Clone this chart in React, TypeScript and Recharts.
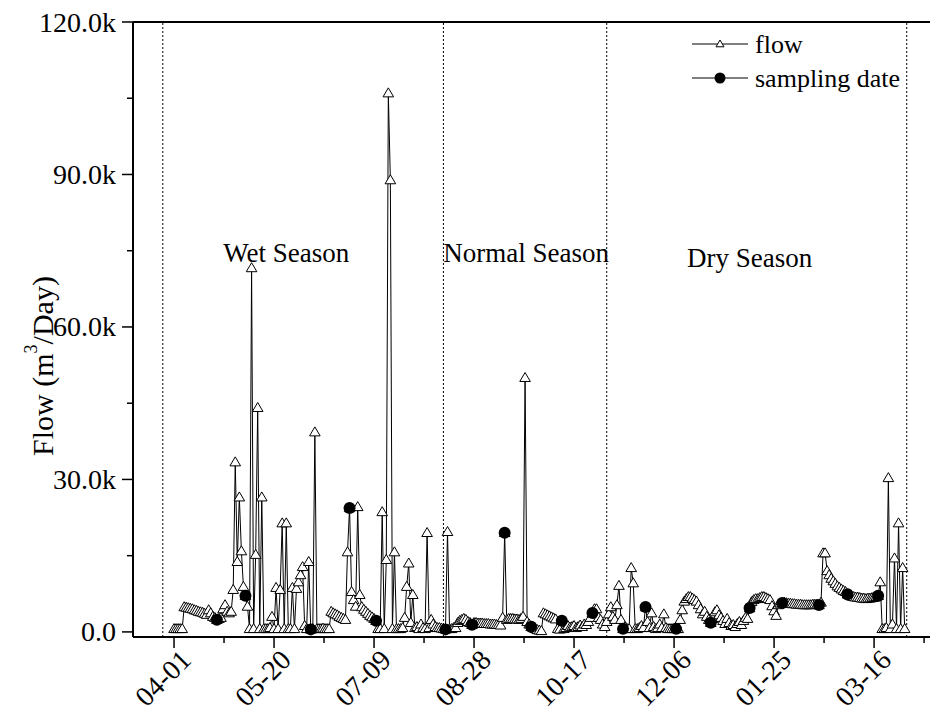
import React from "react"
import {
  ComposedChart,
  Line,
  Scatter,
  XAxis,
  YAxis,
  ReferenceLine,
  ReferenceDot,
} from "recharts"

const FONT = "'Liberation Serif', 'Times New Roman', serif"

// daily flow, thousand m3/day, starting 04-01
const flowK = [
  0.6, 0.6, 0.6, 0.6, 0.6, 4.9, 4.8, 4.7, 4.6, 4.5,
  4.3, 4.2, 4.0, 3.9, 3.8, 3.6, 3.4, 4.3, 3.7, 3.0,
  2.8, 2.4, 2.6, 2.8, 4.5, 5.3, 4.0, 3.7, 4.0, 8.3,
  33.4, 13.8, 26.5, 15.9, 8.9, 7.1, 5.0, 0.6, 71.6, 0.6,
  15.2, 44.1, 0.6, 26.5, 0.6, 0.6, 0.6, 0.8, 3.0, 0.6,
  8.7, 0.6, 8.3, 21.4, 0.6, 21.4, 0.6, 0.6, 8.7, 0.6,
  8.5, 9.8, 11.2, 12.8, 1.2, 0.6, 13.8, 0.5, 0.6, 39.3,
  0.6, 0.6, 0.6, 0.7, 0.6, 0.6, 0.6, 4.0, 3.7, 3.5,
  3.3, 3.0, 2.8, 2.6, 2.4, 15.7, 24.4, 7.9, 6.3, 5.0,
  24.6, 7.3, 4.9, 4.4, 4.0, 3.6, 3.2, 2.9, 2.6, 2.2,
  0.6, 0.6, 23.6, 0.6, 14.2, 106.0, 88.9, 0.6, 15.7, 0.6,
  0.6, 0.6, 0.8, 2.8, 8.9, 13.5, 1.8, 7.3, 0.8, 1.0,
  0.6, 1.5, 0.8, 0.6, 19.5, 0.8, 2.4, 1.5, 1.0, 0.8,
  0.8, 0.7, 0.6, 0.5, 19.7, 0.6, 0.6, 0.8, 0.8, 1.8,
  2.2, 2.4, 2.6, 2.4, 2.0, 1.8, 1.4, 1.8, 1.8, 1.7,
  1.7, 1.7, 1.6, 1.6, 1.6, 1.5, 1.5, 1.5, 1.4, 1.4,
  1.3, 2.8, 19.5, 2.4, 2.6, 2.6, 2.6, 2.5, 2.5, 2.4,
  2.6, 3.0, 50.0, 2.0, 1.5, 1.0, 0.8, 0.6, 0.4, 0.3,
  0.2, 3.7, 3.5, 3.3, 3.1, 2.9, 2.7, 2.5, 0.6, 0.5,
  2.2, 0.6, 0.8, 1.2, 0.9, 1.0, 1.2, 0.8, 1.0, 1.3,
  1.0, 1.5, 1.4, 2.0, 2.8, 3.7, 4.5, 4.5, 2.8, 2.4,
  1.5, 1.0, 2.0, 3.5, 4.9, 3.0, 2.4, 5.3, 9.1, 2.4,
  0.6, 1.0, 0.6, 0.6, 12.6, 9.6, 0.6, 0.6, 0.8, 1.2,
  0.8, 4.9, 2.0, 0.8, 3.7, 1.0, 0.6, 0.8, 1.5, 0.8,
  3.5, 0.8, 0.6, 0.6, 0.6, 0.6, 0.6, 0.6, 2.4, 4.3,
  6.0, 6.5, 6.9, 6.9, 6.6, 6.3, 6.0, 5.3, 4.5, 3.5,
  4.0, 3.0, 2.4, 1.8, 2.6, 3.9, 4.3, 3.3, 2.8, 2.2,
  1.6, 2.6, 1.8, 1.2, 1.4, 1.0, 1.6, 2.0, 1.4, 2.2,
  2.8, 2.6, 4.7, 5.9, 6.3, 6.5, 6.5, 6.7, 6.9, 6.9,
  6.7, 6.5, 6.3, 5.1, 4.1, 3.2, 5.3, 5.6, 5.7, 5.8,
  5.7, 5.6, 5.6, 5.5, 5.5, 5.4, 5.4, 5.4, 5.3, 5.3,
  5.3, 5.3, 5.3, 5.4, 5.4, 5.4, 5.3, 5.8, 15.5, 15.5,
  12.0, 11.2, 10.5, 10.0, 9.5, 9.0, 8.7, 8.4, 8.1, 7.9,
  7.4, 7.2, 7.0, 6.9, 6.8, 6.8, 6.7, 6.6, 6.6, 6.5,
  6.6, 6.6, 6.7, 6.8, 6.9, 7.1, 9.8, 0.6, 0.6, 0.8,
  30.3, 0.6, 1.5, 14.5, 0.6, 21.4, 0.6, 12.6, 0.6,
]

// days (counted from 04-01) on which samples were taken, and the flow on those days
const sampleDays = [21, 35, 67, 86, 99, 133, 146, 162, 175, 190, 205, 220, 231, 246, 263, 282, 298, 316, 330, 345]
const sampleFlowK = [2.4, 7.1, 0.5, 24.4, 2.2, 0.5, 1.4, 19.5, 1.0, 2.2, 3.7, 0.6, 4.9, 0.6, 1.8, 4.7, 5.7, 5.3, 7.4, 7.1]

const xMajorTicks = [0, 49, 98, 147, 196, 245, 294, 343]
const xTickLabels = ["04-01", "05-20", "07-09", "08-28", "10-17", "12-06", "01-25", "03-16"]
const xMinorTicks = [24.5, 73.5, 122.5, 171.5, 220.5, 269.5, 318.5, 367.5]

const yMajorTicks = [0, 30, 60, 90, 120]
const yMinorTicks = [15, 45, 75, 105]

// season boundaries (day index) and labels
const seasonBounds = [-5.5, 132, 212, 359]
const seasonNames = ["Wet Season", "Normal Season", "Dry Season"]
const seasonLabelDay = [55, 172.5, 282]
const seasonLabelY = [74.6, 74.6, 73.6]

const flowData = flowK.map((v, i) => ({ day: i, flow: v }))
const sampleData = sampleDays.map((d, i) => ({ day: d, sample: sampleFlowK[i] }))

const trianglePath = (cx: number, cy: number, s: number) =>
  `M${cx},${cy - s} L${cx - s},${cy + s * 0.7} L${cx + s},${cy + s * 0.7} Z`

const renderTriangle = (p: any) => {
  if (p.cx == null || p.cy == null) return <g key={`t-${p.index}`} />
  return (
    <path
      key={`t-${p.index}`}
      d={trianglePath(p.cx, p.cy, 5.3)}
      fill="#fff"
      stroke="#000"
      strokeWidth={1}
    />
  )
}

const renderSample = (p: any) => <circle cx={p.cx} cy={p.cy} r={6} fill="#000" />

const XTick = ({ x, y, payload }: any) => {
  const i = xMajorTicks.indexOf(payload.value)
  if (i < 0) {
    return <line x1={x} x2={x} y1={y} y2={y + 6} stroke="#000" strokeWidth={1.5} />
  }
  return (
    <g>
      <line x1={x} x2={x} y1={y} y2={y + 11} stroke="#000" strokeWidth={1.5} />
      <text
        transform={`translate(${x + 12},${y + 18}) rotate(-45)`}
        textAnchor="end"
        dominantBaseline="central"
        fontFamily={FONT}
        fontSize={28}
        fill="#000"
      >
        {xTickLabels[i]}
      </text>
    </g>
  )
}

const YTick = ({ x, y, payload }: any) => {
  const v = payload.value
  if (!yMajorTicks.includes(v)) {
    return <line x1={x} x2={x - 6} y1={y} y2={y} stroke="#000" strokeWidth={1.5} />
  }
  return (
    <g>
      <line x1={x} x2={x - 11} y1={y} y2={y} stroke="#000" strokeWidth={1.5} />
      <text
        x={x - 17}
        y={y}
        textAnchor="end"
        dominantBaseline="central"
        fontFamily={FONT}
        fontSize={28}
        fill="#000"
      >
        {v === 0 ? "0.0" : `${v.toFixed(1)}k`}
      </text>
    </g>
  )
}

export default function App() {
  return (
    <div style={{ position: "absolute", left: 0, top: 0, width: 930, height: 722, background: "#fff" }}>
      <ComposedChart
        width={930}
        height={722}
        data={flowData}
        margin={{ top: 22, right: 0, bottom: 0, left: 0 }}
      >
        <XAxis
          type="number"
          dataKey="day"
          domain={[-20.1, 370.4]}
          allowDataOverflow
          ticks={[...xMajorTicks, ...xMinorTicks].sort((a, b) => a - b)}
          interval={0}
          tick={<XTick />}
          tickLine={false}
          tickSize={0}
          tickMargin={0}
          axisLine={{ stroke: "#000", strokeWidth: 2 }}
          height={85}
        />
        <YAxis
          type="number"
          domain={[-1, 120]}
          allowDataOverflow
          ticks={[...yMajorTicks, ...yMinorTicks].sort((a, b) => a - b)}
          interval={0}
          tick={<YTick />}
          tickLine={false}
          tickSize={0}
          tickMargin={0}
          axisLine={{ stroke: "#000", strokeWidth: 2 }}
          width={133}
        />
        <ReferenceLine y={120} stroke="#000" strokeWidth={2} />
        {seasonBounds.map((d) => (
          <ReferenceLine key={d} x={d} stroke="#000" strokeWidth={1} strokeDasharray="2 2" />
        ))}
        {seasonNames.map((name, i) => (
          <ReferenceDot
            key={name}
            x={seasonLabelDay[i]}
            y={seasonLabelY[i]}
            r={0}
            stroke="none"
            fill="none"
            label={{ value: name, position: "center", fill: "#000", fontSize: 27, fontFamily: FONT }}
          />
        ))}
        <Line
          type="linear"
          dataKey="flow"
          stroke="#000"
          strokeWidth={1}
          dot={renderTriangle}
          activeDot={false}
          isAnimationActive={false}
        />
        <Scatter data={sampleData} dataKey="sample" shape={renderSample} isAnimationActive={false} />
      </ComposedChart>

      <svg
        width={930}
        height={722}
        style={{ position: "absolute", left: 0, top: 0, pointerEvents: "none" }}
      >
        <text
          transform="translate(42,366) rotate(-90)"
          textAnchor="middle"
          dominantBaseline="central"
          fontFamily={FONT}
          fontSize={30}
          fill="#000"
        >
          Flow (m
          <tspan fontSize={18} dy={-11}>3</tspan>
          <tspan dy={11}>/Day)</tspan>
        </text>

        {/* legend */}
        <line x1={692} x2={748} y1={44} y2={44} stroke="#000" strokeWidth={1} />
        <path d={trianglePath(720, 44, 4)} fill="#fff" stroke="#000" strokeWidth={1} />
        <text x={755} y={44} dominantBaseline="central" fontFamily={FONT} fontSize={26} fill="#000">
          flow
        </text>
        <line x1={692} x2={748} y1={78} y2={78} stroke="#000" strokeWidth={1} />
        <circle cx={720} cy={78} r={5.5} fill="#000" />
        <text x={755} y={78} dominantBaseline="central" fontFamily={FONT} fontSize={26} fill="#000">
          sampling date
        </text>
      </svg>
    </div>
  )
}
